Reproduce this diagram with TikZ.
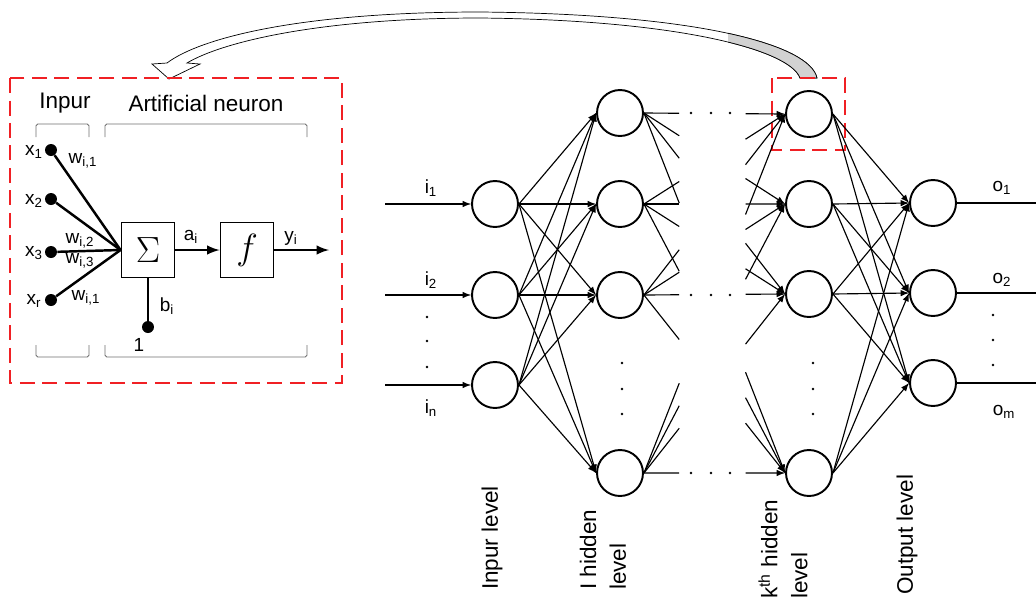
\documentclass[tikz,border=0pt]{standalone}
\usepackage{fontspec}
\setmainfont{Liberation Sans}
\usetikzlibrary{calc,arrows}
\definecolor{boxred}{RGB}{240,32,36}
\definecolor{brkgray}{RGB}{110,110,110}
\tikzset{
  neuron/.style={circle,draw,line width=1.1pt,minimum size=0.92cm,inner sep=0pt},
  link/.style={line width=0.65pt},
  arr/.style={link,-latex},
  inwire/.style={line width=1.4pt},
  indot/.style={circle,fill,inner sep=0pt,minimum size=0.24cm},
  opbox/.style={draw,line width=1.1pt,minimum width=1.06cm,minimum height=1.1cm,inner sep=0pt},
  redbox/.style={draw=boxred,line width=1.2pt,dash pattern=on 0.3cm off 0.15cm},
  brk/.style={draw=brkgray,line width=0.5pt,rounded corners=1pt},
  txt/.style={font=\fontsize{12.8}{17}\selectfont,inner sep=1pt},
  sml/.style={font=\fontsize{10.8}{13}\selectfont,inner sep=1pt},
  vlab/.style={txt,rotate=90,anchor=west,align=left}
}

\begin{document}
\begin{tikzpicture}[x=0.02cm,y=-0.02cm]
              \useasboundingbox (0,0) rectangle (1036,603);
              % curved arrow from the k-th neuron to the zoomed neuron
              \path[draw=black,line width=0.4pt,fill=white] (817,78) .. controls (810,45) and (700,14) .. (480,12) .. controls (300,12) and (200,38) .. (167,63)
                -- (152,64) -- (169,79) -- (200,64) -- (187,63)
                .. controls (222,42) and (320,18) .. (480,18) .. controls (680,20) and (790,50) .. (800,78) -- cycle;
              \begin{scope}
                \clip (728,0) rectangle (830,80);
                \path[draw=black,line width=0.4pt,fill=gray!35] (817,78) .. controls (810,45) and (700,14) .. (480,12)
                  -- (480,18) .. controls (680,20) and (790,50) .. (800,78) -- cycle;
              \end{scope}
              % artificial neuron
              \draw[redbox] (10,78) rectangle (342,383);
              \node[txt] (tinp) at (65,103) {Inpur};
              \node[txt] (tneu) at (206,103) {Artificial neuron};
              \draw[brk] (36,137) -- (36,124) -- (89,124) -- (89,137);
              \draw[brk] (105,137) -- (105,124) -- (307,124) -- (307,137);
              \draw[brk] (36,345) -- (36,357) -- (89,357) -- (89,345);
              \draw[brk] (105,345) -- (105,357) -- (307,357) -- (307,345);
              \node[indot] (x1d) at (51,150) {};
              \node[indot] (x2d) at (51,199) {};
              \node[indot] (x3d) at (51,252) {};
              \node[indot] (xrd) at (51,300) {};
              \node[indot] (bd) at (148,327) {};
              \node[opbox] (sum) at (148,250) {\fontsize{21}{21}\selectfont$\Sigma$};
              \node[opbox] (f) at (247,250) {\fontsize{21}{21}\selectfont$f$};
              \coordinate (yend) at (329,250);
              \draw[inwire] (x1d) -- (sum.west);
              \draw[inwire] (x2d) -- (sum.west);
              \draw[inwire] (x3d) -- (sum.west);
              \draw[inwire] (xrd) -- (sum.west);
              \draw[inwire] (bd) -- (sum.south);
              \draw[inwire,-latex] (sum) -- (f);
              \draw[inwire,-latex] (f) -- (yend);
              \node[sml] (lx1) at (34,152) {x\textsubscript{1}};
              \node[sml] (lx2) at (34,201) {x\textsubscript{2}};
              \node[sml] (lx3) at (34,253) {x\textsubscript{3}};
              \node[sml] (lxr) at (34,301) {x\textsubscript{r}};
              \node[sml] (lw1) at (83,161) {w\textsubscript{i,1}};
              \node[sml] (lw2) at (80,241) {w\textsubscript{i,2}};
              \node[sml] (lw3) at (80,261) {w\textsubscript{i,3}};
              \node[sml] (lw4) at (86,298) {w\textsubscript{i,1}};
              \node[sml] (la) at (191,237) {a\textsubscript{i}};
              \node[sml] (ly) at (291,238) {y\textsubscript{i}};
              \node[sml] (lb) at (167,306) {b\textsubscript{i}};
              \node[sml] (lone) at (139,345) {1};
              % network
              \node[neuron] (in1) at (495,204) {};
              \node[neuron] (in2) at (495,295) {};
              \node[neuron] (in3) at (495,385) {};
              \node[neuron] (ha1) at (620,113) {};
              \node[neuron] (ha2) at (620,204) {};
              \node[neuron] (ha3) at (620,295) {};
              \node[neuron] (ha4) at (620,473) {};
              \node[neuron] (hk1) at (809,114) {};
              \node[neuron] (hk2) at (809,204) {};
              \node[neuron] (hk3) at (809,294) {};
              \node[neuron] (hk4) at (809,473) {};
              \node[neuron] (out1) at (933,203) {};
              \node[neuron] (out2) at (933,293) {};
              \node[neuron] (out3) at (933,383) {};
              \draw[redbox] (772,78) rectangle (845,150);
              \coordinate (s1) at (385,204);
              \coordinate (s2) at (385,295);
              \coordinate (s3) at (385,385);
              \coordinate (e1) at (1036,203);
              \coordinate (e2) at (1036,293);
              \coordinate (e3) at (1036,383);
              \draw[arr] (s1) -- (in1);
              \draw[arr] (s2) -- (in2);
              \draw[arr] (s3) -- (in3);
              \draw[link] (out1) -- (e1);
              \draw[link] (out2) -- (e2);
              \draw[link] (out3) -- (e3);
              \foreach \a in {1,2,3} \foreach \b in {1,...,4} \draw[arr] (in\a.east) -- (ha\b.west);
              \foreach \a in {1,...,4} \foreach \b in {1,...,4} {
                \draw[link] (ha\a.east) -- ($(ha\a.east)!0.25!(hk\b.west)$);
                \draw[arr] ($(ha\a.east)!0.72!(hk\b.west)$) -- (hk\b.west);
              }
              \foreach \a in {1,...,4} \foreach \b in {1,2,3} \draw[arr] (hk\a.east) -- (out\b.west);
              \foreach \x in {691,711,730} \foreach \y in {113,295,473} \fill (\x,\y) circle (1.3);
              \foreach \y in {363,389,414} {
                \fill (622,\y) circle (1.3);
                \fill (813,\y) circle (1.3);
              }
              \foreach \y in {317,341,367} \fill (427,\y) circle (1.3);
              \foreach \y in {315,340,365} \fill (993,\y) circle (1.3);
              \node[sml] (li1) at (431,188) {i\textsubscript{1}};
              \node[sml] (li2) at (431,280) {i\textsubscript{2}};
              \node[sml] (lin) at (431,408) {i\textsubscript{n}};
              \node[sml] (lo1) at (1002,188) {o\textsubscript{1}};
              \node[sml] (lo2) at (1002,280) {o\textsubscript{2}};
              \node[sml] (lom) at (1004,412) {o\textsubscript{m}};
              \node[vlab] (linp) at (492,592) {Inpur level};
              \node[vlab] (lha) at (603,592) {I hidden\\level};
              \node[vlab] (lhk) at (783,601) {k\textsuperscript{th} hidden\\level};
              \node[vlab] (lout) at (907,597) {Output level};
            \end{tikzpicture}
\end{document}
